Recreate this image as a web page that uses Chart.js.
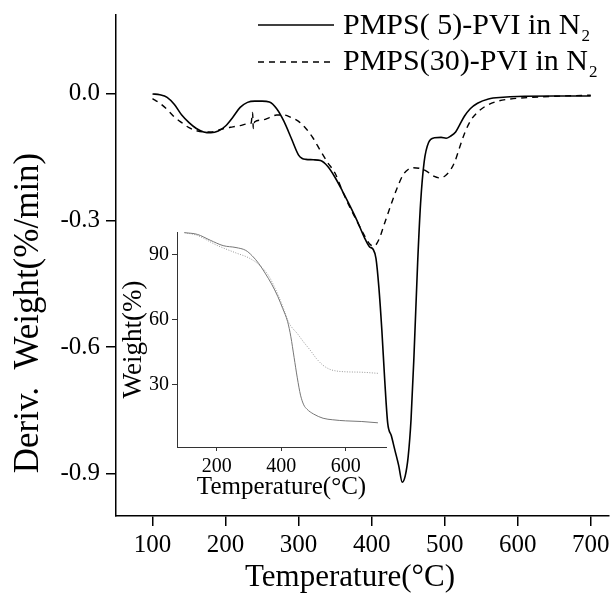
<!DOCTYPE html>
<html>
<head>
<meta charset="utf-8">
<script src="https://cdn.jsdelivr.net/npm/chart.js@4.4.1/dist/chart.umd.min.js"></script>
<style>
  html, body { margin: 0; padding: 0; background: #fff; }
  #wrap { position: relative; width: 611px; height: 599px; }
  #main { position: absolute; left: 0; top: 0; }
  #inset { position: absolute; left: 110px; top: 222px; }
</style>
</head>
<body>
<div id="wrap">
  <canvas id="main" width="611" height="599"></canvas>
  <canvas id="inset" width="290" height="285"></canvas>
</div>
<script>
// DTG curves (main plot)
const seriesLabels = ['PMPS( 5)-PVI in N\u2082', 'PMPS(30)-PVI in N\u2082'];

const tempA = [100, 110, 120, 130, 140, 150, 160, 170, 180, 190, 200, 210, 220, 230, 240, 250, 260, 270, 280, 290,
  300, 305, 310, 320, 330, 340, 350, 360, 370, 380, 390, 397, 402, 406, 410, 414, 418, 422, 427, 432, 437, 442,
  446, 450, 454, 458, 463, 467, 472, 478, 486, 495, 502, 508, 515, 520, 527, 535, 545, 560, 580, 600, 650, 700];
const derivA = [0.000, -0.002, -0.008, -0.025, -0.050, -0.068, -0.082, -0.090, -0.092, -0.088, -0.076, -0.055,
  -0.032, -0.020, -0.017, -0.017, -0.019, -0.035, -0.065, -0.105, -0.145, -0.153, -0.155, -0.156, -0.158, -0.172,
  -0.198, -0.230, -0.264, -0.300, -0.340, -0.362, -0.368, -0.390, -0.460, -0.560, -0.680, -0.780, -0.810, -0.845,
  -0.880, -0.920, -0.905, -0.860, -0.770, -0.620, -0.400, -0.260, -0.160, -0.115, -0.104, -0.103, -0.105, -0.100,
  -0.090, -0.075, -0.053, -0.035, -0.022, -0.012, -0.008, -0.006, -0.005, -0.005];

const tempB = [100, 110, 120, 130, 140, 150, 160, 170, 180, 190, 200, 210, 220, 230, 235, 237, 238, 240, 250, 260,
  270, 280, 290, 300, 310, 320, 330, 340, 350, 360, 370, 380, 390, 397, 403, 410, 418, 426, 434, 443, 450, 456,
  465, 475, 485, 493, 500, 508, 514, 521, 528, 536, 544, 555, 571, 590, 620, 660, 700];
const derivB = [-0.011, -0.022, -0.037, -0.055, -0.068, -0.080, -0.087, -0.090, -0.090, -0.086, -0.081, -0.078,
  -0.075, -0.071, -0.069, -0.044, -0.082, -0.066, -0.062, -0.056, -0.050, -0.050, -0.056, -0.065, -0.082, -0.105,
  -0.135, -0.163, -0.188, -0.230, -0.268, -0.302, -0.335, -0.355, -0.361, -0.345, -0.305, -0.265, -0.227, -0.192,
  -0.179, -0.175, -0.176, -0.183, -0.195, -0.199, -0.195, -0.180, -0.160, -0.124, -0.090, -0.062, -0.045, -0.030,
  -0.018, -0.012, -0.008, -0.005, -0.003];

const xTicksMain = [100, 200, 300, 400, 500, 600, 700];
const yTicksMain = [0, -0.3, -0.6, -0.9];

// TGA curves (inset)
const tgaTempA = [100, 140, 180, 220, 260, 290, 310, 330, 350, 370, 390, 405, 420, 430, 440, 450, 460, 470, 480,
  500, 530, 560, 600, 650, 700];
const tgaWeightA = [100.2, 99.4, 96.7, 94.2, 93.3, 92.0, 89.5, 86.0, 81.5, 76.5, 70.5, 65.0, 59.0, 52.0, 42.5,
  33.0, 25.0, 20.5, 18.5, 16.3, 14.3, 13.6, 13.1, 12.8, 12.2];
const tgaTempB = [100, 140, 200, 260, 300, 330, 360, 390, 410, 420, 430, 450, 470, 490, 510, 530, 550, 570, 600,
  650, 700];
const tgaWeightB = [100.2, 98.9, 94.4, 90.8, 88.5, 85.5, 80.5, 71.5, 64.0, 59.7, 57.0, 53.5, 49.5, 45.8, 41.8,
  38.8, 37.0, 36.2, 35.8, 35.6, 35.1];

const xTicksInset = [200, 400, 600];
const yTicksInset = [30, 60, 90];

const mainXTitle = 'Temperature(\u00B0C)';
const mainYTitle = 'Deriv.  Weight(%/min)';
const insetXTitle = 'Temperature(\u00B0C)';
const insetYTitle = 'Weight(%)';

const serif = '"Liberation Serif", "Times New Roman", serif';

function toPoints(xs, ys) {
    return xs.map((x, i) => ({ x: x, y: ys[i] }));
}

// no extra room for edge labels: the plot box is set by layout padding only
function noEdgePadding(s) {
    s.paddingTop = 0;
    s.paddingBottom = 0;
    s.paddingLeft = 0;
    s.paddingRight = 0;
}

// axis titles and legend drawn by hand (subscript, exact placement)
const mainDecor = {
    id: 'mainDecor',
    afterDraw(chart) {
        const ctx = chart.ctx;
        ctx.save();
        ctx.fillStyle = '#000';
        ctx.font = '31px ' + serif;
        ctx.textAlign = 'center';
        ctx.textBaseline = 'middle';
        ctx.fillText(mainXTitle, 350, 578);
        ctx.font = '35px ' + serif;
        ctx.translate(29, 313);
        ctx.rotate(-Math.PI / 2);
        ctx.fillText(mainYTitle, 0, 0);
        ctx.restore();

        // legend
        const rows = [{ line: 25, base: 34 }, { line: 62, base: 70 }];
        chart.data.datasets.forEach((ds, i) => {
            const r = rows[i];
            ctx.save();
            ctx.strokeStyle = ds.borderColor;
            ctx.lineWidth = ds.borderWidth;
            ctx.setLineDash(ds.borderDash || []);
            ctx.beginPath();
            ctx.moveTo(258, r.line);
            ctx.lineTo(334, r.line);
            ctx.stroke();
            ctx.setLineDash([]);
            let text = ds.label;
            let sub = '';
            if (text.endsWith('\u2082')) {
                text = text.slice(0, -1);
                sub = '2';
            }
            ctx.fillStyle = '#000';
            ctx.font = '30px ' + serif;
            ctx.textAlign = 'left';
            ctx.textBaseline = 'alphabetic';
            ctx.fillText(text, 343, r.base);
            const w = ctx.measureText(text).width;
            ctx.font = '17px ' + serif;
            ctx.fillText(sub, 343 + w + 1, r.base + 7);
            ctx.restore();
        });
    }
};

new Chart(document.getElementById('main'), {
    type: 'line',
    data: {
        datasets: [
            {
                label: seriesLabels[0],
                data: toPoints(tempA, derivA),
                borderColor: '#000',
                borderWidth: 1.6,
                pointRadius: 0,
                cubicInterpolationMode: 'monotone',
                fill: false
            },
            {
                label: seriesLabels[1],
                data: toPoints(tempB, derivB),
                borderColor: '#000',
                borderWidth: 1.4,
                borderDash: [6, 5],
                pointRadius: 0,
                cubicInterpolationMode: 'monotone',
                fill: false
            }
        ]
    },
    options: {
        responsive: false,
        animation: false,
        layout: { padding: { top: 15, right: 2, left: 0, bottom: 0 } },
        plugins: {
            legend: { display: false },
            tooltip: { enabled: false }
        },
        scales: {
            x: {
                type: 'linear',
                min: 50,
                max: 725,
                afterBuildTicks: s => { s.ticks = xTicksMain.map(v => ({ value: v })); },
                afterFit: s => { s.height = 83; noEdgePadding(s); },
                ticks: {
                    color: '#000',
                    padding: 4,
                    maxRotation: 0,
                    font: { family: serif, size: 25 },
                    callback: v => String(v)
                },
                grid: { drawOnChartArea: false, drawTicks: true, tickLength: 10, color: '#000', lineWidth: 1.5 },
                border: { display: true, color: '#000', width: 1.5 }
            },
            y: {
                type: 'linear',
                min: -1.0,
                max: 0.187,
                afterBuildTicks: s => { s.ticks = yTicksMain.map(v => ({ value: v })); },
                afterFit: s => { s.width = 116; noEdgePadding(s); },
                ticks: {
                    color: '#000',
                    padding: 6,
                    font: { family: serif, size: 25 },
                    callback: v => v.toFixed(1)
                },
                grid: { drawOnChartArea: false, drawTicks: true, tickLength: 10, color: '#000', lineWidth: 1.5 },
                border: { display: true, color: '#000', width: 1.5 }
            }
        }
    },
    plugins: [mainDecor]
});

new Chart(document.getElementById('inset'), {
    type: 'line',
    data: {
        datasets: [
            {
                label: seriesLabels[0],
                data: toPoints(tgaTempA, tgaWeightA),
                borderColor: '#777',
                borderWidth: 1,
                pointRadius: 0,
                cubicInterpolationMode: 'monotone',
                fill: false
            },
            {
                label: seriesLabels[1],
                data: toPoints(tgaTempB, tgaWeightB),
                borderColor: '#999',
                borderWidth: 1,
                borderDash: [1, 1.5],
                pointRadius: 0,
                cubicInterpolationMode: 'monotone',
                fill: false
            }
        ]
    },
    options: {
        responsive: false,
        animation: false,
        layout: { padding: { top: 10, right: 14, left: 0, bottom: 0 } },
        plugins: {
            legend: { display: false },
            tooltip: { enabled: false }
        },
        scales: {
            x: {
                type: 'linear',
                min: 77,
                max: 725,
                afterBuildTicks: s => { s.ticks = xTicksInset.map(v => ({ value: v })); },
                afterFit: s => { s.height = 60; noEdgePadding(s); },
                ticks: {
                    color: '#000',
                    padding: 4,
                    maxRotation: 0,
                    font: { family: serif, size: 20 },
                    callback: v => String(v)
                },
                grid: { drawOnChartArea: false, drawTicks: true, tickLength: 4, color: '#333' },
                border: { display: true, color: '#333', width: 1 },
                title: {
                    display: true,
                    text: insetXTitle,
                    color: '#000',
                    padding: { top: 0, bottom: 5 },
                    font: { family: serif, size: 25 }
                }
            },
            y: {
                type: 'linear',
                min: 1,
                max: 100.5,
                afterBuildTicks: s => { s.ticks = yTicksInset.map(v => ({ value: v })); },
                afterFit: s => { s.width = 67; noEdgePadding(s); },
                ticks: {
                    color: '#000',
                    padding: 3,
                    font: { family: serif, size: 20 },
                    callback: v => String(v)
                },
                grid: { drawOnChartArea: false, drawTicks: true, tickLength: 5, color: '#333' },
                border: { display: true, color: '#333', width: 1 },
                title: {
                    display: true,
                    text: insetYTitle,
                    color: '#000',
                    padding: { top: 8, bottom: 0 },
                    font: { family: serif, size: 27 }
                }
            }
        }
    }
});
</script>
</body>
</html>
